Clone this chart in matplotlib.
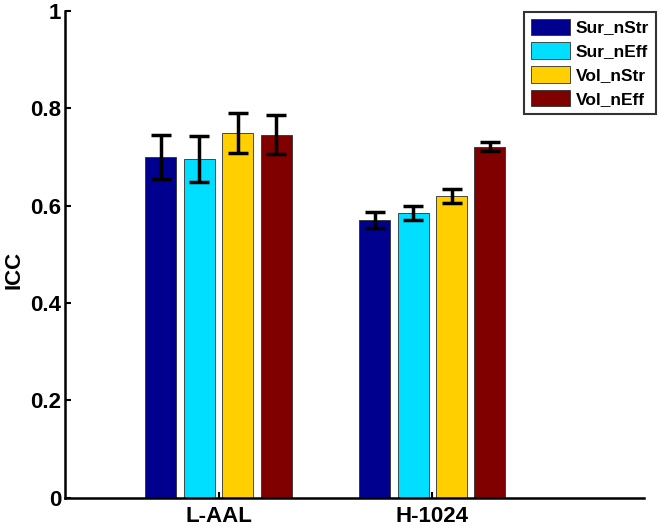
import matplotlib.pyplot as plt
import numpy as np

plt.rcParams['font.family'] = ['Liberation Sans', 'DejaVu Sans']
plt.rcParams['font.weight'] = 'bold'

groups = ["L-AAL", "H-1024"]
series = ["Sur_nStr", "Sur_nEff", "Vol_nStr", "Vol_nEff"]
colors = ["#00008F", "#00DFFF", "#FFCF00", "#800000"]

icc = {
	"Sur_nStr": [0.699, 0.570],
	"Sur_nEff": [0.696, 0.584],
	"Vol_nStr": [0.749, 0.619],
	"Vol_nEff": [0.745, 0.721],
}
err = {
	"Sur_nStr": [0.045, 0.016],
	"Sur_nEff": [0.047, 0.014],
	"Vol_nStr": [0.041, 0.014],
	"Vol_nEff": [0.040, 0.010],
}

fig = plt.figure(figsize=(6.61, 5.28), dpi=100)
ax = fig.add_axes([0.099, 0.0574, 0.875, 0.9223])

x = np.arange(1, len(groups) + 1)
step = 0.18
width = 0.145
for i, s in enumerate(series):
	pos = x + (i - 1.5) * step
	ax.bar(pos, icc[s], width, color=colors[i], edgecolor="#303030", linewidth=0.6, label=s)
	ax.errorbar(pos, icc[s], yerr=err[s], fmt="none", ecolor="black",
		elinewidth=2.5, capsize=7, capthick=2.5)

ax.set_xlim(0.283, 2.99)
ax.set_ylim(0, 1)
ax.set_xticks(x)
ax.set_xticklabels(groups, fontsize=16, fontweight="bold")
ax.set_yticks([0, 0.2, 0.4, 0.6, 0.8, 1])
ax.set_yticklabels(["0", "0.2", "0.4", "0.6", "0.8", "1"], fontsize=16, fontweight="bold")
ax.tick_params(direction="in", length=4, width=1.5, pad=3)
ax.tick_params(axis="x", pad=6)
ax.set_ylabel("ICC", fontsize=16, fontweight="bold")
ax.yaxis.set_label_coords(-0.071, 0.467)

for side in ["top", "right"]:
	ax.spines[side].set_visible(False)
for side in ["left", "bottom"]:
	ax.spines[side].set_linewidth(1.8)

leg = fig.legend(*ax.get_legend_handles_labels(), loc="upper right",
	bbox_to_anchor=(0.9924, 0.978), frameon=True,
	fancybox=False, edgecolor="black", handlelength=2.3, handleheight=1.05,
	handletextpad=0.3, labelspacing=0.4, borderpad=0.4, borderaxespad=0,
	prop={"weight": "bold", "size": 12.5})
leg.get_frame().set_linewidth(1.5)

plt.savefig("out.png")
plt.close("all")
